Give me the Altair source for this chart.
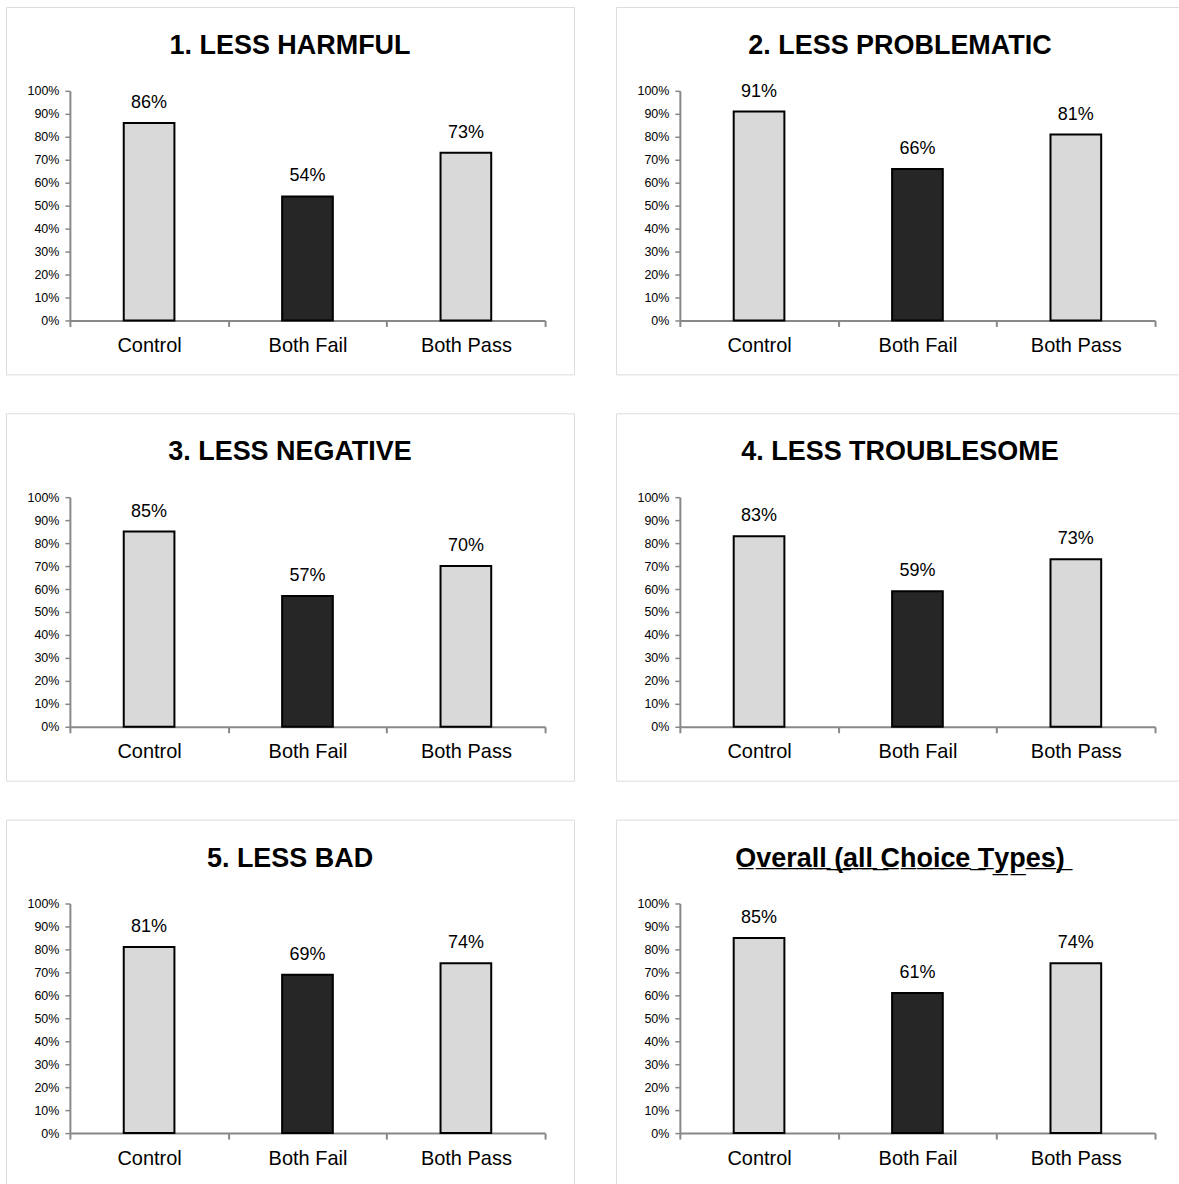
import altair as alt
import pandas as pd

# Categories and the share (in %) for each choice type
groups = ["Control", "Both Fail", "Both Pass"]
titles = [
    "1. LESS HARMFUL",
    "2. LESS PROBLEMATIC",
    "3. LESS NEGATIVE",
    "4. LESS TROUBLESOME",
    "5. LESS BAD",
    "Overall (all Choice Types)",
]
less_harmful = [86, 54, 73]
less_problematic = [91, 66, 81]
less_negative = [85, 57, 70]
less_troublesome = [83, 59, 73]
less_bad = [81, 69, 74]
overall = [85, 61, 74]
series = [less_harmful, less_problematic, less_negative,
          less_troublesome, less_bad, overall]
underlined = [False, False, False, False, False, True]

bar_colors = ["#d9d9d9", "#262626", "#d9d9d9"]

FONT = "Liberation Sans"
PANEL_W, PANEL_H = 569, 368          # framed panel (view) size
PLOT_X0, PLOT_X1 = 64, 540           # plotting area inside the frame
PLOT_Y0, PLOT_Y1 = 314, 84           # 0% and 100% positions


def underline(text):
    return "".join(ch + "\u0332" for ch in text)


def panel(title, values, is_underlined):
    df = pd.DataFrame({"group": groups, "pct": values})
    df["label"] = [f"{v}%" for v in values]

    x = alt.X(
        "group:N",
        sort=groups,
        title=None,
        scale=alt.Scale(range=[PLOT_X0, PLOT_X1], paddingInner=0, paddingOuter=0),
        axis=alt.Axis(
            orient="bottom",
            offset=-(PANEL_H - PLOT_Y0),
            labelAngle=0,
            tickBand="extent",
            tickSize=6,
            tickWidth=2,
            domainWidth=2,
            labelFontSize=20,
            labelPadding=9,
        ),
    )
    y = alt.Y(
        "pct:Q",
        title=None,
        scale=alt.Scale(domain=[0, 100], range=[PLOT_Y0, PLOT_Y1]),
        axis=alt.Axis(
            orient="left",
            offset=-PLOT_X0,
            values=list(range(0, 101, 10)),
            labelExpr="datum.value + '%'",
            grid=False,
            tickSize=5,
            tickWidth=1.5,
            domainWidth=2,
            labelFontSize=12.5,
            labelPadding=6,
        ),
    )

    bars = alt.Chart(df).mark_bar(
        width=alt.RelativeBandSize(0.32), stroke="black", strokeWidth=2
    ).encode(
        x=x,
        y=y,
        color=alt.Color("group:N", scale=alt.Scale(domain=groups, range=bar_colors),
                        legend=None),
    )
    labels = alt.Chart(df).mark_text(
        baseline="alphabetic", dy=-15, fontSize=18, font=FONT, color="black"
    ).encode(x=x, y=y, text="label:N")

    shown = underline(title) if is_underlined else title
    return alt.layer(bars, labels).properties(
        width=PANEL_W,
        height=PANEL_H,
        title=alt.TitleParams(
            text=shown,
            font=FONT,
            fontSize=27,
            fontWeight="bold",
            color="black",
            anchor="middle",
            frame="group",
            baseline="alphabetic",
            offset=-74,
        ),
    )


panels = [panel(t, v, u) for t, v, u in zip(titles, series, underlined)]

chart = alt.concat(*panels, columns=2, spacing={"row": 37, "column": 40}).properties(
    padding={"left": 5, "top": 5, "right": -6, "bottom": -1}
).configure_view(
    stroke="#d9d9d9", strokeWidth=2, fill="white"
).configure_axis(
    labelFont=FONT,
    labelColor="black",
    domainColor="black",
    tickColor="black",
    translate=0,
).configure(background="white")

chart.save("out.html", embed_options={"renderer": "svg", "actions": False})
